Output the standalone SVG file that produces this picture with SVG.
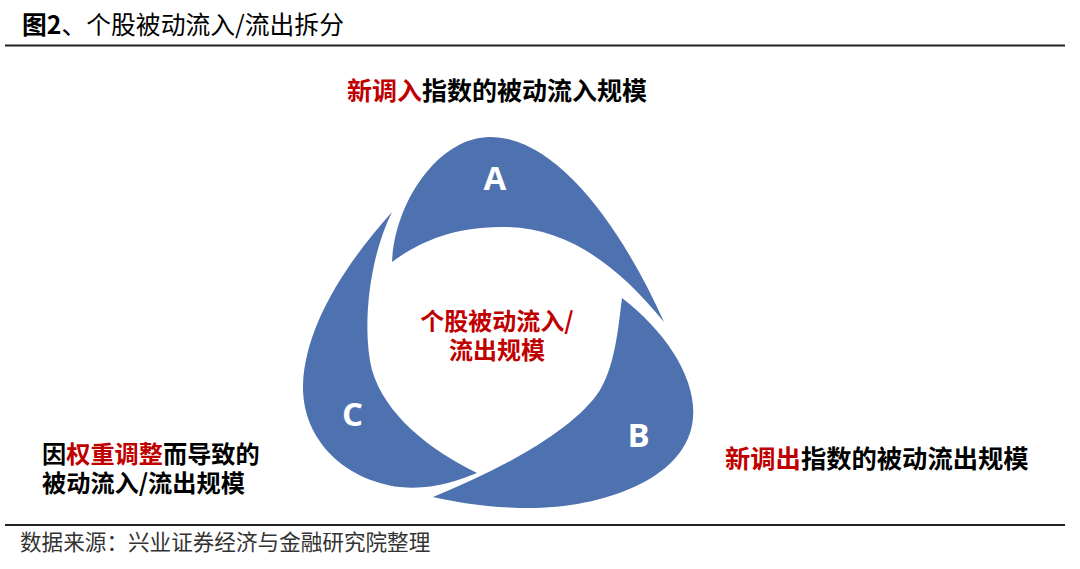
<svg xmlns="http://www.w3.org/2000/svg" width="1080" height="569" viewBox="0 0 1080 569">
<style>
.cjk{font-family:"Noto Sans CJK SC","Liberation Sans",sans-serif}
.b{font-weight:bold}
.red{fill:#C00000}
.blk{fill:#000}
.blade{fill:#4E72B0}
.lbl{font-family:"Open Sans","Liberation Sans",sans-serif;font-weight:bold;font-size:33px;fill:#fff;text-anchor:middle}
.rule{stroke:#222;stroke-width:2}
</style>
<rect width="1080" height="569" fill="#fff"/>
<g id="title">
<text class="cjk" x="22" y="34" font-size="24.8" fill="#000"><tspan font-weight="bold">图2</tspan>、个股被动流入/流出拆分</text>
<line class="rule" x1="5" y1="45.5" x2="1065" y2="45.5"/>
</g>
<g id="node-A">
<path class="blade" d="M392,262 C395,200 440,137 490,137 C560,137 625,235 664,322 C620,268 570,228 505,227 C450,226 415,245 392,262 Z"/>
<text class="lbl" x="495" y="190">A</text>
</g>
<g id="node-B">
<path class="blade" d="M622,298 C670,335 700,385 692,425 C682,480 600,510 520,508 C485,507 455,502 433,497 C500,470 575,430 600,390 C615,365 618,330 622,298 Z"/>
<text class="lbl" x="638.5" y="447">B</text>
</g>
<g id="node-C">
<path class="blade" d="M392,212 C340,270 305,330 303,385 C302,440 345,480 400,487 C430,490 455,482 477,473 C430,450 385,415 372,370 C362,330 368,260 392,212 Z"/>
<text class="lbl" x="352.5" y="426">C</text>
</g>
<g id="node-center">
<text class="cjk b red" x="497" y="329.5" font-size="24" text-anchor="middle">个股被动流入/</text>
<text class="cjk b red" x="497" y="358.5" font-size="24" text-anchor="middle">流出规模</text>
</g>
<g id="label-top">
<text class="cjk b" x="347" y="100" font-size="25"><tspan class="red">新调入</tspan><tspan class="blk">指数的被动流入规模</tspan></text>
</g>
<g id="label-right">
<text class="cjk b" x="725" y="468" font-size="25.3"><tspan class="red">新调出</tspan><tspan class="blk">指数的被动流出规模</tspan></text>
</g>
<g id="label-left">
<text class="cjk b" x="42" y="463" font-size="24.2"><tspan class="blk">因</tspan><tspan class="red">权重调整</tspan><tspan class="blk">而导致的</tspan></text>
<text class="cjk b blk" x="42" y="492" font-size="24.2">被动流入/流出规模</text>
</g>
<g id="connectors"></g>
<g id="footer">
<line class="rule" x1="5" y1="525" x2="1065" y2="525"/>
<text class="cjk" x="20" y="550" font-size="21.6" fill="#333">数据来源：兴业证券经济与金融研究院整理</text>
</g>
</svg>
